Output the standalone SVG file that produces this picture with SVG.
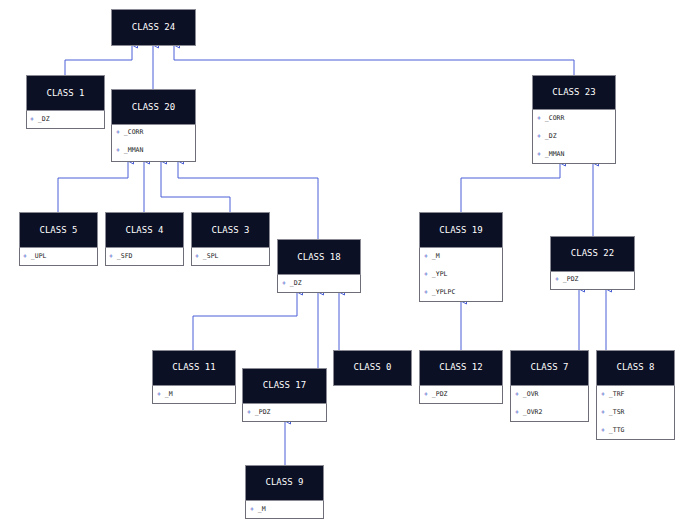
<svg xmlns="http://www.w3.org/2000/svg" width="694" height="525" viewBox="0 0 694 525">
<style>
.h{fill:#0c1024;stroke:#8a8a95;stroke-width:1}
.b{fill:#fff;stroke:#6e6e78;stroke-width:1}
.t{fill:#fff;font-family:"DejaVu Sans Mono",monospace;font-size:9px;text-anchor:middle}
.a{fill:#222;font-family:"DejaVu Sans Mono",monospace;font-size:6.5px}
.a tspan{fill:#3b4fc4}
.e path{fill:none;stroke:#4a5fd6;stroke-width:1}
</style>
<defs><marker id="m" markerWidth="8" markerHeight="8" refX="3.5" refY="0.5" orient="auto-start-reverse" markerUnits="userSpaceOnUse" viewBox="0 0 8 8"><path d="M0.5,6 L3.5,0.5 L6.5,6 Z" fill="#fff" stroke="#4a5fd6" stroke-width="1"/></marker></defs>
<rect width="694" height="525" fill="#fff"/>
<g class="e">
<path d="M65,75V60H132V45" marker-end="url(#m)"/>
<path d="M153,89V45" marker-end="url(#m)"/>
<path d="M574,75V60H174V45" marker-end="url(#m)"/>
<path d="M58,212V178H128V161" marker-end="url(#m)"/>
<path d="M144,212V161" marker-end="url(#m)"/>
<path d="M230,212V197H161V161" marker-end="url(#m)"/>
<path d="M318,239V178H178V161" marker-end="url(#m)"/>
<path d="M461,212V178H560V163" marker-end="url(#m)"/>
<path d="M593,236V163" marker-end="url(#m)"/>
<path d="M461,350V301" marker-end="url(#m)"/>
<path d="M579,350V289" marker-end="url(#m)"/>
<path d="M606,350V289" marker-end="url(#m)"/>
<path d="M193,350V316H297V292" marker-end="url(#m)"/>
<path d="M318,368V292" marker-end="url(#m)"/>
<path d="M339,350V292" marker-end="url(#m)"/>
<path d="M285,465V421" marker-end="url(#m)"/>
</g>
<g id="c24"><rect class="h" x="111.5" y="9.5" width="84" height="36"/><text class="t" x="153.5" y="30">CLASS 24</text></g>
<g id="c1"><rect class="b" x="26.5" y="75.5" width="78" height="53"/><rect class="h" x="26.5" y="75.5" width="78" height="35"/><text class="t" x="65.5" y="96">CLASS 1</text><text class="a" x="30" y="121"><tspan>+</tspan> _DZ</text></g>
<g id="c20"><rect class="b" x="111.5" y="89.5" width="84" height="72"/><rect class="h" x="111.5" y="89.5" width="84" height="35"/><text class="t" x="153.5" y="110">CLASS 20</text><text class="a" x="116" y="134"><tspan>+</tspan> _CORR</text><text class="a" x="116" y="152"><tspan>+</tspan> _MMAN</text></g>
<g id="c23"><rect class="b" x="532.5" y="75.5" width="83" height="88"/><rect class="h" x="532.5" y="75.5" width="83" height="34"/><text class="t" x="574" y="95">CLASS 23</text><text class="a" x="537" y="120"><tspan>+</tspan> _CORR</text><text class="a" x="537" y="138"><tspan>+</tspan> _DZ</text><text class="a" x="537" y="156"><tspan>+</tspan> _MMAN</text></g>
<g id="c5"><rect class="b" x="19.5" y="212.5" width="78" height="53"/><rect class="h" x="19.5" y="212.5" width="78" height="35"/><text class="t" x="58.5" y="233">CLASS 5</text><text class="a" x="23" y="258"><tspan>+</tspan> _UPL</text></g>
<g id="c4"><rect class="b" x="105.5" y="212.5" width="78" height="53"/><rect class="h" x="105.5" y="212.5" width="78" height="35"/><text class="t" x="144.5" y="233">CLASS 4</text><text class="a" x="109" y="258"><tspan>+</tspan> _SFD</text></g>
<g id="c3"><rect class="b" x="191.5" y="212.5" width="78" height="53"/><rect class="h" x="191.5" y="212.5" width="78" height="35"/><text class="t" x="230.5" y="233">CLASS 3</text><text class="a" x="195" y="258"><tspan>+</tspan> _SPL</text></g>
<g id="c18"><rect class="b" x="277.5" y="239.5" width="83" height="53"/><rect class="h" x="277.5" y="239.5" width="83" height="35"/><text class="t" x="319" y="260">CLASS 18</text><text class="a" x="282" y="285"><tspan>+</tspan> _DZ</text></g>
<g id="c19"><rect class="b" x="419.5" y="212.5" width="83" height="89"/><rect class="h" x="419.5" y="212.5" width="83" height="35"/><text class="t" x="461" y="233">CLASS 19</text><text class="a" x="424" y="258"><tspan>+</tspan> _M</text><text class="a" x="424" y="276"><tspan>+</tspan> _YPL</text><text class="a" x="424" y="294"><tspan>+</tspan> _YPLPC</text></g>
<g id="c22"><rect class="b" x="550.5" y="236.5" width="84" height="53"/><rect class="h" x="550.5" y="236.5" width="84" height="35"/><text class="t" x="592.5" y="256">CLASS 22</text><text class="a" x="555" y="281"><tspan>+</tspan> _PDZ</text></g>
<g id="c11"><rect class="b" x="152.5" y="350.5" width="83" height="53"/><rect class="h" x="152.5" y="350.5" width="83" height="35"/><text class="t" x="194" y="370">CLASS 11</text><text class="a" x="157" y="396"><tspan>+</tspan> _M</text></g>
<g id="c17"><rect class="b" x="242.5" y="368.5" width="84" height="53"/><rect class="h" x="242.5" y="368.5" width="84" height="35"/><text class="t" x="284.5" y="388">CLASS 17</text><text class="a" x="247" y="414"><tspan>+</tspan> _PDZ</text></g>
<g id="c0"><rect class="h" x="333.5" y="350.5" width="78" height="35"/><text class="t" x="372.5" y="370">CLASS 0</text></g>
<g id="c12"><rect class="b" x="419.5" y="350.5" width="83" height="53"/><rect class="h" x="419.5" y="350.5" width="83" height="35"/><text class="t" x="461" y="370">CLASS 12</text><text class="a" x="424" y="396"><tspan>+</tspan> _PDZ</text></g>
<g id="c7"><rect class="b" x="510.5" y="350.5" width="78" height="71"/><rect class="h" x="510.5" y="350.5" width="78" height="35"/><text class="t" x="549.5" y="370">CLASS 7</text><text class="a" x="515" y="396"><tspan>+</tspan> _OVR</text><text class="a" x="515" y="414"><tspan>+</tspan> _OVR2</text></g>
<g id="c8"><rect class="b" x="596.5" y="350.5" width="78" height="89"/><rect class="h" x="596.5" y="350.5" width="78" height="35"/><text class="t" x="635.5" y="370">CLASS 8</text><text class="a" x="601" y="396"><tspan>+</tspan> _TRF</text><text class="a" x="601" y="414"><tspan>+</tspan> _TSR</text><text class="a" x="601" y="432"><tspan>+</tspan> _TTG</text></g>
<g id="c9"><rect class="b" x="245.5" y="465.5" width="78" height="53"/><rect class="h" x="245.5" y="465.5" width="78" height="35"/><text class="t" x="284.5" y="485">CLASS 9</text><text class="a" x="250" y="511"><tspan>+</tspan> _M</text></g>
</svg>
